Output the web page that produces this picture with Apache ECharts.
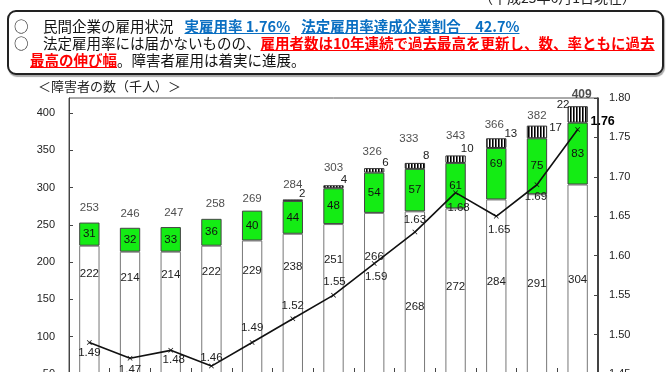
<!DOCTYPE html>
<html>
<head>
<meta charset="utf-8">
<script src="https://cdn.jsdelivr.net/npm/echarts/dist/echarts.min.js"></script>
<style>
  html, body { margin: 0; padding: 0; background: #fff; }
  #wrap { position: relative; width: 672px; height: 372px; overflow: hidden; font-family: "Noto Sans CJK JP", sans-serif; }
  #chart { position: absolute; left: 0; top: 0; width: 672px; height: 372px; }
  .abs { position: absolute; white-space: nowrap; }
  #date { left: 479px; top: -10px; font-size: 14px; line-height: 14px; color: #222; }
  #box { left: 7px; top: 10px; width: 653px; height: 61px; border: 2px solid #222; border-radius: 9px; box-shadow: 1px 2px 1px #aaa; background: #fff; }
  .ln { font-size: 14.5px; line-height: 18px; color: #111; }
  .blue { color: #0a6fc2; font-weight: bold; text-decoration: underline; }
  .red { color: #ff0000; font-weight: bold; text-decoration: underline; }
  #sub { left: 38px; top: 77px; font-size: 13px; line-height: 18px; color: #222; }
</style>
</head>
<body>
<div id="wrap">
  <div id="chart"></div>
  <div class="abs" id="date">（平成25年6月1日現在）</div>
  <div class="abs" id="box"></div>
  <div class="abs ln" style="left:14px; top:17px;">○</div>
  <div class="abs ln" style="left:43px; top:17px;">民間企業の雇用状況<span class="blue" style="margin-left:11px;">実雇用率 1.76%</span><span class="blue" style="margin-left:11px;">法定雇用率達成企業割合　42.7%</span></div>
  <div class="abs ln" style="left:14px; top:34px;">○</div>
  <div class="abs ln" style="left:43px; top:34px;">法定雇用率には届かないものの、<span class="red">雇用者数は10年連続で過去最高を更新し、数、率ともに過去</span></div>
  <div class="abs ln" style="left:30px; top:51px;"><span class="red">最高の伸び幅</span>。障害者雇用は着実に進展。</div>
  <div class="abs" id="sub">＜障害者の数（千人）＞</div>
</div>
<script>
// ---- data ----
const categories = ['H13','H14','H15','H16','H17','H18','H19','H20','H21','H22','H23','H24','H25'];
const physical = [222, 214, 214, 222, 229, 238, 251, 266, 268, 272, 284, 291, 304];
const intellectual = [31, 32, 33, 36, 40, 44, 48, 54, 57, 61, 69, 75, 83];
const mental = [0, 0, 0, 0, 0, 2, 4, 6, 8, 10, 13, 17, 22];
const totals = [253, 246, 247, 258, 269, 284, 303, 326, 333, 343, 366, 382, 409];
const rates = [1.49, 1.47, 1.48, 1.46, 1.49, 1.52, 1.55, 1.59, 1.63, 1.68, 1.65, 1.69, 1.76];

// ---- label layout (pixel nudges only) ----
const physLabelDy = [28, 26, 23, 26, 30, 33, 36, 44, 95, 78, 82, 90, 95];
const intelLabelDy = [0, 0, 0, 0, 0, 0, 0, 0, 0, 0, -10, 0, 0];
const mentalLabelShift = [null, null, null, null, null, [-4, -6], [-3, -5], [-2, -5], [-2, -7], [-5, -7], [-2, -4], [2, 2], [2, -1]];
const mentalLabelLeftSide = [false, false, false, false, false, false, false, false, false, false, false, false, true];
const totalLabelShift = [[0, -14.5], [0, -14], [3, -14.5], [4, -14.7], [0, -12], [0, -14.6], [0, -17.7], [-2, -16], [-6, -23.6], [0, -19.4], [-2, -13], [0, -11], [4, -11.7]];
const rateLabelShift = [[0, 10], [0, 12], [3, 9], [0, -8], [0, -15], [0, -13], [1, -13], [2, 13], [0, -12], [3, 15], [3, 14], [-1, 12], [25, -8]];

// stripe pattern for the mental series
const pc = document.createElement('canvas');
pc.width = 3; pc.height = 4;
const pctx = pc.getContext('2d');
pctx.fillStyle = '#fff'; pctx.fillRect(0, 0, 3, 4);
pctx.fillStyle = '#000'; pctx.fillRect(0, 0, 1, 4);
pctx.fillStyle = '#666'; pctx.fillRect(1, 0, 1, 4);

const numFont = 'Liberation Sans';
const chart = echarts.init(document.getElementById('chart'), null, { renderer: 'canvas' });

const physData = physical.map((v, i) => ({
  value: v,
  label: { offset: [0, physLabelDy[i]] }
}));
const intelData = intellectual.map((v, i) => ({
  value: v,
  label: { offset: [0, intelLabelDy[i]] }
}));
const mentalData = mental.map((v, i) => {
  if (!v) return '-';
  const s = mentalLabelShift[i];
  return {
    value: v,
    label: mentalLabelLeftSide[i]
      ? { position: [0, 0], align: 'right', offset: s }
      : { position: ['100%', 0], align: 'left', offset: s }
  };
});
const totalData = totals.map((v, i) => ({
  value: v,
  label: { offset: totalLabelShift[i], fontWeight: i === totals.length - 1 ? 'bold' : 'normal', fontSize: i === totals.length - 1 ? 12 : 11.5 }
}));
const rateData = rates.map((v, i) => ({
  value: v,
  label: i === rates.length - 1
    ? { offset: rateLabelShift[i], fontWeight: 'bold', fontSize: 12.5, color: '#000' }
    : { offset: rateLabelShift[i] }
}));

const option = {
  animation: false,
  textStyle: { fontFamily: numFont },
  grid: { left: 69, top: 98, width: 529, height: 276, show: true, borderColor: '#555', borderWidth: 1, backgroundColor: 'transparent', containLabel: false, outerBoundsMode: 'none' },
  xAxis: {
    type: 'category',
    data: categories,
    boundaryGap: true,
    axisLine: { lineStyle: { color: '#444' } },
    axisTick: { show: true, inside: true, length: 6, interval: 0, lineStyle: { color: '#444' } },
    axisLabel: { show: false },
    splitLine: { show: false }
  },
  yAxis: [
    {
      type: 'value', min: 50, max: 420, interval: 50,
      axisLine: { show: true, lineStyle: { color: '#444' } },
      axisTick: { show: true, inside: true, length: 4, lineStyle: { color: '#444' } },
      axisLabel: { color: '#222', fontSize: 11, margin: 14, showMaxLabel: false, fontFamily: numFont },
      splitLine: { show: false }
    },
    {
      type: 'value', min: 1.45, max: 1.80, interval: 0.05,
      axisLine: { show: true, lineStyle: { color: '#222', width: 1.5 } },
      axisTick: { show: true, inside: true, length: 4, lineStyle: { color: '#444' } },
      axisLabel: { color: '#222', fontSize: 11, margin: 11, fontFamily: numFont, formatter: v => v.toFixed(2) },
      splitLine: { show: false }
    }
  ],
  series: [
    {
      name: '身体障害者', type: 'bar', stack: 'total', barWidth: '50%',
      data: physData,
      itemStyle: { color: '#fff', borderColor: '#777', borderWidth: 1 },
      label: { show: true, position: ['50%', 0], align: 'center', verticalAlign: 'middle', color: '#222', fontSize: 11.5, fontFamily: numFont }
    },
    {
      name: '知的障害者', type: 'bar', stack: 'total',
      data: intelData,
      itemStyle: { color: '#14ec14', borderColor: '#444', borderWidth: 1 },
      label: { show: true, position: 'inside', color: '#111', fontSize: 11.5, fontFamily: numFont }
    },
    {
      name: '精神障害者', type: 'bar', stack: 'total',
      data: mentalData,
      itemStyle: { color: { image: pc, repeat: 'repeat' }, borderColor: '#333', borderWidth: 1 },
      label: { show: true, verticalAlign: 'middle', color: '#222', fontSize: 11.5, fontFamily: numFont }
    },
    {
      name: '合計', type: 'scatter', data: totalData, symbolSize: 1,
      itemStyle: { color: 'rgba(0,0,0,0)' }, silent: true, z: 5,
      label: { show: true, position: 'inside', color: '#222', fontFamily: numFont }
    },
    {
      name: '実雇用率', type: 'line', yAxisIndex: 1, data: rateData, z: 6,
      lineStyle: { color: '#111', width: 1.6 },
      symbol: 'path://M0,1L1,0L5,4L9,0L10,1L6,5L10,9L9,10L5,6L1,10L0,9L4,5Z',
      symbolSize: 5,
      itemStyle: { color: '#111' },
      label: { show: true, position: 'inside', color: '#222', fontSize: 11.5, fontFamily: numFont, formatter: p => p.value.toFixed(2) }
    }
  ]
};
chart.setOption(option);
</script>
</body>
</html>
